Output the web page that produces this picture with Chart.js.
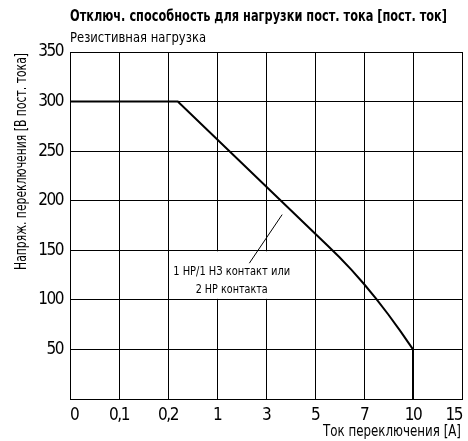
<!DOCTYPE html>
<html>
<head>
<meta charset="utf-8">
<script src="https://cdn.jsdelivr.net/npm/chart.js@4"></script>
<style>
  body { margin: 0; background: #fff; }
</style>
</head>
<body>
<canvas id="dcChart" width="468" height="441"></canvas>
<script>
var FONT = '"Liberation Sans Narrow", "DejaVu Sans Condensed", sans-serif';

var titleText = 'Отключ. способность для нагрузки пост. тока [пост. ток]';
var subtitleText = 'Резистивная нагрузка';
var yTitle = 'Напряж. переключения [В пост. тока]';
var xTitle = 'Ток переключения [A]';

// current axis is not uniform: one step per label
var xLabels = ['0', '0,1', '0,2', '1', '3', '5', '7', '10', '15'];
var yTicks = [0, 50, 100, 150, 200, 250, 300, 350];

// breaking capacity curve, x = position on the current axis, y = volts
var curveX = [0, 2.2, 5, 5.25, 5.5, 5.75, 6, 6.25, 6.5, 6.75, 7, 7];
var curveV = [300, 300, 167, 155, 143, 130, 116, 101, 85, 68, 50, 0];

// callout
var noteLines = ['1 НР/1 НЗ контакт или', '2 НР контакта'];
var noteAt = [3.3, 128];
var leaderFrom = [3.66, 137];
var leaderTo = [4.33, 186];
var noteBox = [2, 4.9, 101, 149];

var points = curveX.map(function (x, i) { return { x: x, y: curveV[i] }; });

// the reference uses a narrow grotesque; squeeze text to its width
function fitText(ctx, text, x, y, width, align, rot) {
  var w = ctx.measureText(text).width;
  ctx.save();
  ctx.translate(x, y);
  if (rot) ctx.rotate(rot);
  ctx.scale(width / w, 1);
  ctx.textAlign = align;
  ctx.fillText(text, 0, 0);
  ctx.restore();
}

var extras = {
  id: 'extras',
  beforeDraw: function (chart) {
    chart.ctx.letterSpacing = '-1.5px';
  },
  afterDraw: function (chart) {
    var ctx = chart.ctx, xs = chart.scales.x, ys = chart.scales.y;
    var area = chart.chartArea;
    ctx.save();
    ctx.letterSpacing = '0px';
    ctx.fillStyle = '#000';
    ctx.textBaseline = 'alphabetic';
    ctx.font = 'bold 15px ' + FONT;
    fitText(ctx, titleText, area.left, 21, 377, 'left');
    ctx.font = '14px ' + FONT;
    fitText(ctx, subtitleText, area.left, 42, 136, 'left');

    ctx.textBaseline = 'middle';
    ctx.font = '16px ' + FONT;
    fitText(ctx, xTitle, area.right - 1, 432, 138, 'right');
    fitText(ctx, yTitle, 22, area.top + 1, 217, 'right', -Math.PI / 2);

    // white patch behind the callout text
    var bx1 = xs.getPixelForValue(noteBox[0]) + 1, bx2 = xs.getPixelForValue(noteBox[1]);
    var by1 = ys.getPixelForValue(noteBox[3]), by2 = ys.getPixelForValue(noteBox[2]);
    ctx.fillStyle = '#fff';
    ctx.fillRect(bx1, by1, bx2 - bx1, by2 - by1);

    ctx.fillStyle = '#000';
    ctx.font = '13px ' + FONT;
    var nx = xs.getPixelForValue(noteAt[0]), ny = ys.getPixelForValue(noteAt[1]);
    fitText(ctx, noteLines[0], nx, ny, 117, 'center');
    fitText(ctx, noteLines[1], nx, ny + 18, 72, 'center');

    ctx.strokeStyle = '#000';
    ctx.lineWidth = 1;
    ctx.beginPath();
    ctx.moveTo(xs.getPixelForValue(leaderFrom[0]), ys.getPixelForValue(leaderFrom[1]));
    ctx.lineTo(xs.getPixelForValue(leaderTo[0]), ys.getPixelForValue(leaderTo[1]));
    ctx.stroke();
    ctx.restore();
  }
};

var ctxDC = document.getElementById('dcChart').getContext('2d');
var chartDC = new Chart(ctxDC, {
  type: 'scatter',
  data: {
    datasets: [{
      data: points,
      showLine: true,
      borderColor: '#000',
      borderWidth: 2,
      pointRadius: 0,
      tension: 0,
      fill: false
    }]
  },
  options: {
    responsive: false,
    animation: false,
    layout: { padding: { top: 52, right: 1, left: 0, bottom: 0 } },
    plugins: {
      legend: { display: false },
      tooltip: { enabled: false }
    },
    scales: {
      x: {
        type: 'linear',
        min: 0,
        max: xLabels.length - 1,
        afterBuildTicks: function (s) {
          s.ticks = xLabels.map(function (l, i) { return { value: i }; });
        },
        afterFit: function (s) { s.height = 42; },
        grid: { color: '#000', lineWidth: 1, drawTicks: false },
        border: { color: '#000', width: 1 },
        ticks: {
          align: 'inner',
          padding: 6,
          color: '#000',
          font: { family: FONT, size: 17 },
          callback: function (v) { return xLabels[v]; }
        }
      },
      y: {
        min: 0,
        max: 350,
        afterBuildTicks: function (s) {
          s.ticks = yTicks.map(function (v) { return { value: v }; });
        },
        afterFit: function (s) { s.width = 70; },
        grid: { color: '#000', lineWidth: 1, drawTicks: false },
        border: { color: '#000', width: 1 },
        ticks: {
          padding: 7,
          color: '#000',
          font: { family: FONT, size: 17 },
          callback: function (v) { return v === 0 ? '' : String(v); }
        }
      }
    }
  },
  plugins: [extras]
});
</script>
</body>
</html>
